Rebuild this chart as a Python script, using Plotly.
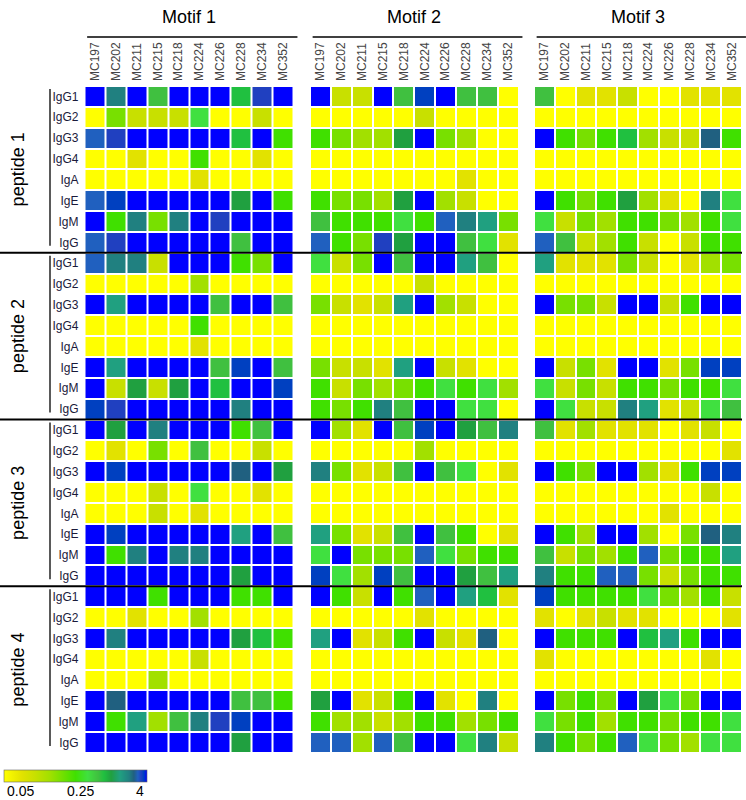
import numpy as np
import plotly.graph_objects as go

columns = ["MC197", "MC202", "MC211", "MC215", "MC218", "MC224", "MC226", "MC228", "MC234", "MC352"]
antibodies = ["IgG1", "IgG2", "IgG3", "IgG4", "IgA", "IgE", "IgM", "IgG"]
peptides = ["peptide 1", "peptide 2", "peptide 3", "peptide 4"]
motifs = ["Motif 1", "Motif 2", "Motif 3"]
legend_ticks = [0.05, 0.25, 4]

Y = 0.05
motif1 = [
    # peptide 1
    [4, 2.0, 4, 0.6, 4, 4, 4, 0.75, 3.2, 4],
    [Y, 0.18, 0.1, 0.1, 0.1, 0.4, Y, Y, 0.1, Y],
    [2.8, 3.2, 4, 4, 4, 4, 4, 0.75, 4, 0.25],
    [Y, Y, 0.075, Y, Y, 0.25, Y, Y, 0.075, Y],
    [Y, Y, Y, Y, Y, 0.075, Y, Y, Y, Y],
    [2.8, 3.5, 4, 4, 4, 4, 4, 1.0, 4, 0.25],
    [4, 0.25, 2.0, 0.18, 2.0, 4, 3.2, 4, 4, 4],
    [2.8, 3.2, 4, 4, 4, 4, 4, 0.6, 4, 4],
    # peptide 2
    [2.8, 2.0, 2.0, 0.1, 4, 4, 4, 0.25, 0.18, 4],
    [Y, Y, Y, Y, Y, 0.14, Y, Y, Y, Y],
    [4, 1.4, 4, 4, 4, 4, 0.6, 4, 4, 0.6],
    [Y, Y, Y, Y, Y, 0.25, Y, Y, Y, Y],
    [Y, Y, Y, Y, Y, 0.075, Y, Y, Y, Y],
    [4, 1.4, 4, 4, 4, 4, 0.6, 3.5, 4, 0.6],
    [4, 0.1, 1.0, 0.1, 1.0, 4, 0.75, 4, 4, 3.5],
    [3.5, 3.2, 4, 4, 4, 4, 4, 2.0, 4, 4],
    # peptide 3
    [4, 1.0, 4, 2.0, 4, 4, 4, 0.25, 0.6, 4],
    [Y, 0.075, Y, 0.18, Y, 0.6, Y, Y, 0.1, Y],
    [4, 3.5, 4, 4, 4, 4, 4, 2.4, 4, 1.0],
    [Y, Y, Y, 0.1, Y, 0.4, Y, Y, 0.075, Y],
    [Y, Y, Y, 0.1, Y, 0.075, Y, Y, Y, Y],
    [4, 3.5, 4, 4, 4, 4, 4, 1.4, 4, 0.6],
    [4, 0.25, 2.0, 4, 2.0, 2.0, 4, 4, 4, 4],
    [4, 4, 4, 4, 4, 4, 4, 1.0, 4, 4],
    # peptide 4
    [4, 4, 4, 0.25, 4, 4, 4, 0.25, 0.25, 4],
    [Y, Y, 0.075, Y, Y, 0.14, Y, Y, Y, Y],
    [4, 2.0, 4, 4, 4, 4, 4, 1.0, 0.75, 0.25],
    [Y, Y, Y, Y, Y, 0.1, Y, Y, Y, Y],
    [Y, Y, Y, 0.14, Y, Y, Y, Y, Y, Y],
    [4, 2.4, 4, 4, 4, 4, 4, 0.6, 0.6, 0.25],
    [4, 0.25, 1.4, 0.14, 0.6, 2.0, 3.2, 3.5, 4, 4],
    [4, 4, 4, 4, 4, 4, 4, 1.0, 4, 4],
]

motif2 = [
    # peptide 1
    [4, 0.1, 0.1, 4, 0.6, 3.5, 4, 0.6, 0.6, Y],
    [Y, Y, Y, Y, Y, 0.1, Y, Y, Y, Y],
    [0.25, 0.18, 0.14, 0.14, 1.0, 4, 0.18, 0.14, Y, Y],
    [Y, Y, Y, Y, Y, Y, Y, Y, Y, Y],
    [Y, Y, Y, Y, Y, Y, Y, 0.075, Y, Y],
    [0.25, 0.18, 0.18, 0.14, 1.0, 4, 0.14, 0.1, Y, Y],
    [0.6, 0.25, 0.25, 0.25, 0.4, 0.25, 2.8, 2.0, 1.4, 0.18],
    [2.8, 0.25, 0.18, 3.2, 1.0, 4, 4, 0.6, 0.4, 0.075],
    # peptide 2
    [0.4, 0.1, 0.18, 4, 0.6, 4, 4, 1.4, 0.6, Y],
    [Y, Y, Y, Y, Y, 0.1, Y, Y, Y, Y],
    [0.18, 0.1, 0.075, 0.1, 1.4, 4, 0.14, 0.1, Y, Y],
    [Y, Y, Y, Y, Y, Y, Y, Y, Y, Y],
    [Y, Y, Y, Y, Y, Y, Y, Y, Y, Y],
    [0.18, 0.1, 0.1, 0.075, 1.4, 4, 0.1, 0.075, Y, Y],
    [0.25, 0.1, 0.18, 0.14, 0.18, 0.25, 0.4, 0.25, 0.4, 0.14],
    [0.25, 0.18, 0.25, 2.0, 0.6, 4, 4, 0.4, 0.4, Y],
    # peptide 3
    [4, 0.14, 0.075, 4, 0.6, 3.5, 4, 1.0, 0.6, 2.0],
    [Y, Y, Y, Y, Y, 0.14, Y, Y, Y, Y],
    [2.0, 0.18, 0.075, 0.1, 0.6, 4, 0.6, 0.4, Y, 0.075],
    [Y, Y, Y, Y, Y, Y, Y, Y, Y, Y],
    [Y, Y, Y, Y, Y, Y, Y, Y, Y, Y],
    [1.4, 0.18, 0.075, 0.1, 0.6, 4, 0.6, 0.25, Y, 0.075],
    [0.4, 4, 0.18, 0.18, 0.18, 2.8, 0.4, 0.18, 0.25, 0.25],
    [3.5, 0.4, 0.14, 3.5, 0.6, 4, 4, 1.0, 0.6, 1.4],
    # peptide 4
    [4, 0.25, 0.1, 4, 0.25, 2.8, 4, 1.4, 0.75, 0.075],
    [Y, Y, Y, Y, Y, 0.075, Y, Y, Y, Y],
    [1.4, 4, 0.075, 0.1, 0.25, 4, 0.1, 0.075, 2.4, Y],
    [Y, Y, Y, Y, Y, Y, Y, Y, Y, Y],
    [Y, Y, Y, Y, Y, Y, Y, Y, Y, Y],
    [1.0, 4, 0.075, 0.1, 0.25, 4, 0.075, Y, 2.0, Y],
    [0.25, 0.14, 0.14, 0.1, 0.14, 0.25, 0.25, 0.14, 0.18, 0.25],
    [2.8, 2.8, 0.14, 2.8, 0.6, 4, 4, 0.4, 2.0, 0.1],
]

motif3 = [
    # peptide 1
    [0.6, Y, 0.075, 0.075, 0.1, Y, Y, 0.075, 0.075, 0.075],
    [Y, Y, Y, Y, Y, Y, Y, Y, Y, Y],
    [4, 0.25, 0.18, 0.25, 0.75, 0.14, 0.1, 0.1, 2.4, 0.25],
    [Y, Y, Y, Y, Y, Y, Y, Y, Y, Y],
    [Y, Y, Y, Y, Y, Y, Y, Y, Y, Y],
    [4, 0.25, 0.18, 0.25, 1.0, 0.14, 0.075, Y, 2.0, 0.4],
    [0.4, 0.1, 0.18, 0.14, 0.25, 0.25, 0.18, 0.14, 0.25, 0.4],
    [2.8, 0.6, 0.1, 0.14, 0.25, 0.1, Y, 0.1, 0.25, 0.25],
    # peptide 2
    [1.4, 0.075, 0.075, 0.075, 0.18, 0.1, Y, 0.075, 0.14, 0.18],
    [Y, Y, Y, Y, Y, Y, Y, Y, Y, Y],
    [4, 0.18, 0.18, 0.1, 4, 4, 0.1, 0.25, 4, 4],
    [Y, Y, Y, Y, Y, Y, Y, Y, Y, Y],
    [Y, Y, Y, Y, Y, Y, Y, Y, Y, Y],
    [4, 0.1, 0.18, 0.075, 4, 4, 0.075, 0.18, 3.5, 3.5],
    [0.4, 0.1, 0.18, 0.1, 0.25, 0.25, 0.18, 0.25, 0.25, 0.4],
    [4, 0.4, 0.1, 0.1, 2.0, 1.4, 0.075, 0.1, 0.4, 0.6],
    # peptide 3
    [0.6, 0.075, 0.14, 0.075, 0.075, 0.075, Y, 0.075, 0.1, Y],
    [Y, Y, Y, Y, Y, Y, Y, Y, Y, 0.075],
    [4, 0.25, 0.18, 4, 4, 0.14, 0.075, 0.25, 3.5, 3.5],
    [Y, Y, Y, Y, Y, Y, Y, Y, 0.1, Y],
    [Y, Y, Y, Y, Y, Y, 0.075, Y, Y, Y],
    [4, 0.25, 0.14, 4, 4, 0.14, Y, 0.18, 2.4, 2.0],
    [0.6, 0.1, 0.18, 0.14, 0.25, 2.8, 0.18, 0.25, 0.25, 1.4],
    [2.0, 0.25, 0.25, 2.8, 2.8, 0.18, 0.1, 0.18, 0.25, 0.25],
    # peptide 4
    [3.5, 0.25, 0.25, 0.25, 0.25, 0.4, 0.18, 0.14, 0.25, 0.1],
    [0.075, Y, 0.075, 0.1, 0.075, 0.075, Y, Y, Y, 0.075],
    [4, 0.25, 0.25, 0.25, 4, 0.75, 1.4, 0.25, 4, 4],
    [0.075, Y, Y, Y, Y, Y, Y, Y, 0.075, Y],
    [Y, Y, Y, Y, Y, Y, Y, Y, Y, Y],
    [4, 0.18, 0.25, 0.18, 4, 1.0, 0.4, 0.18, 4, 4],
    [0.4, 0.18, 0.25, 0.14, 0.25, 0.25, 0.18, 0.25, 0.25, 0.4],
    [2.0, 0.25, 0.18, 0.25, 2.8, 0.4, 0.18, 0.14, 0.4, 0.4],
]


def to_pos(v):
    """Piecewise-log colour position: 0.05 -> 0, 0.25 -> 0.5, 4 -> 1."""
    v = np.clip(np.asarray(v, dtype=float), legend_ticks[0], legend_ticks[2])
    low = 0.5 * np.log(v / legend_ticks[0]) / np.log(legend_ticks[1] / legend_ticks[0])
    high = 0.5 + 0.5 * np.log(v / legend_ticks[1]) / np.log(legend_ticks[2] / legend_ticks[1])
    return np.where(v <= legend_ticks[1], low, high)


colorscale = [
    [0.0, "#ffff00"],
    [0.126, "#e2e200"],
    [0.215, "#c8e000"],
    [0.32, "#a2e000"],
    [0.398, "#78e000"],
    [0.5, "#40e000"],
    [0.585, "#40e040"],
    [0.658, "#40c040"],
    [0.698, "#20c040"],
    [0.75, "#20a040"],
    [0.811, "#20a080"],
    [0.875, "#208080"],
    [0.908, "#206080"],
    [0.936, "#2060c0"],
    [0.96, "#2040c0"],
    [0.976, "#0040c0"],
    [1.0, "#0000ff"],
]

W, H = 746, 800
ML, MR, MT, MB = 84, 4, 86, 47
PW, PH = W - ML - MR, H - MT - MB


def px(p):
    return (p - ML) / PW


def py(p):
    return (H - MB - p) / PH


domains = [[px(84.5), px(293.5)], [px(310), px(518.5)], [px(534), 1.0]]
nrows = len(antibodies) * len(peptides)

fig = go.Figure()
FONT = "Liberation Sans, Arial, sans-serif"

for i, data in enumerate([motif1, motif2, motif3]):
    xa = "x" if i == 0 else f"x{i+1}"
    fig.add_trace(go.Heatmap(
        z=to_pos(data),
        x=list(range(len(columns))),
        y=list(range(nrows)),
        customdata=np.asarray(data),
        hovertemplate="%{customdata}<extra></extra>",
        colorscale=colorscale, zmin=0, zmax=1,
        xgap=2, ygap=2,
        xaxis=xa, yaxis="y",
        showscale=(i == 0),
        colorbar=dict(
            orientation="h",
            xref="container", x=4 / W, xanchor="left",
            yref="container", y=1 - 770 / H, yanchor="top",
            len=143, lenmode="pixels", thickness=12,
            xpad=0, ypad=0,
            outlinewidth=0.6, outlinecolor="#666",
            showticklabels=False, ticks="",
        ) if i == 0 else None,
    ))

layout = dict(
    width=W, height=H,
    margin=dict(l=ML, r=MR, t=MT, b=MB, autoexpand=False),
    paper_bgcolor="white", plot_bgcolor="white",
    font=dict(family=FONT),
    yaxis=dict(
        range=[nrows - 0.5, -0.5],
        tickvals=list(range(nrows)),
        ticktext=antibodies * len(peptides),
        ticks="", showgrid=False, zeroline=False, showline=False,
        tickfont=dict(size=12, color="#1a1a3a", family=FONT),
        ticklabelstandoff=5, automargin=False,
    ),
)
for i in range(3):
    key = "xaxis" if i == 0 else f"xaxis{i+1}"
    layout[key] = dict(
        domain=domains[i], anchor="y", side="top",
        range=[-0.5, len(columns) - 0.5],
        tickvals=list(range(len(columns))), ticktext=columns,
        tickangle=-90, ticks="", showgrid=False, zeroline=False, showline=False,
        tickfont=dict(size=12, color="#444", family=FONT),
        ticklabelstandoff=4, automargin=False,
    )
fig.update_layout(**layout)

shapes = []
annotations = []
for i, m in enumerate(motifs):
    d0, d1 = domains[i]
    annotations.append(dict(text=m, x=(d0 + d1) / 2, y=py(17), xref="paper", yref="paper",
                            showarrow=False, font=dict(size=18, color="black", family=FONT),
                            xanchor="center", yanchor="middle"))
    shapes.append(dict(type="line", xref="paper", yref="paper",
                       x0=d0 + 0.004, x1=d1 + 0.006, y0=py(37), y1=py(37),
                       line=dict(color="black", width=1.5)))

ppep = len(antibodies)
for k, p in enumerate(peptides):
    top = MT + PH * k / len(peptides)
    bot = MT + PH * (k + 1) / len(peptides)
    annotations.append(dict(text=p, x=px(18), y=py((top + bot) / 2), xref="paper", yref="paper",
                            textangle=-90, showarrow=False,
                            font=dict(size=18, color="black", family=FONT),
                            xanchor="center", yanchor="middle"))
    shapes.append(dict(type="line", xref="paper", yref="paper",
                       x0=px(50), x1=px(50), y0=py(top + 3), y1=py(bot - 7),
                       line=dict(color="black", width=1.3)))
    if k > 0:
        shapes.append(dict(type="line", xref="paper", yref="y",
                           x0=px(0), x1=1.0, y0=k * ppep - 0.5, y1=k * ppep - 0.5,
                           line=dict(color="black", width=2)))

# legend tick mark and labels
bar_x0, bar_x1 = 4, 147
mid_x = bar_x0 + (bar_x1 - bar_x0) * float(to_pos(legend_ticks[1]))
shapes.append(dict(type="line", xref="paper", yref="paper",
                   x0=px(mid_x), x1=px(mid_x), y0=py(770), y1=py(782),
                   line=dict(color="black", width=1)))
for val, xp, anc in [(legend_ticks[0], 5, "left"), (legend_ticks[1], 80, "center"), (legend_ticks[2], 146, "right")]:
    annotations.append(dict(text=f"{val:g}", x=px(xp), y=py(791), xref="paper", yref="paper",
                            showarrow=False, font=dict(size=14, color="black", family=FONT),
                            xanchor=anc, yanchor="middle"))

fig.update_layout(shapes=shapes, annotations=annotations)
fig.write_html("out.html",
               config={"displayModeBar": False},
               post_script="document.body.style.margin='0';document.body.style.padding='0';")
